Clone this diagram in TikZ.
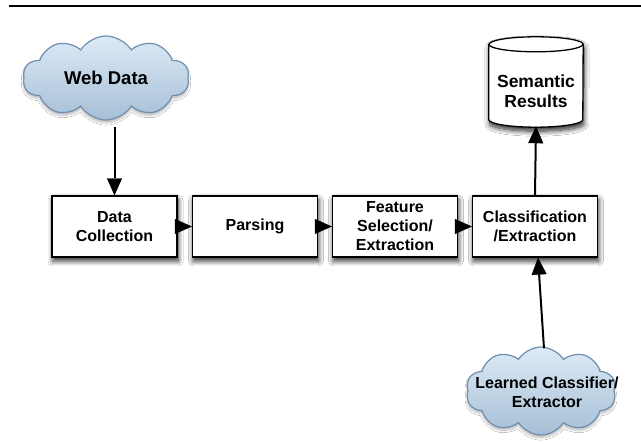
\documentclass[tikz,border=0pt]{standalone}
\usepackage{fontspec}
\setmainfont{Liberation Sans}
\usetikzlibrary{shapes.symbols,shapes.geometric,arrows.meta,shadows.blur,calc}

\definecolor{cloudtop}{HTML}{DDEAF6}
\definecolor{cloudbot}{HTML}{A6BFD6}
\definecolor{cloudedge}{HTML}{6F8FAE}

\tikzset{
  every node/.style={font=\fontsize{16}{19}\selectfont\bfseries, align=center},
  bigtext/.style={font=\fontsize{17.5}{20}\selectfont\bfseries},
  boxshadow/.style={blur shadow={shadow xshift=1pt, shadow yshift=-4pt,
    shadow blur radius=5pt, shadow blur steps=10, shadow opacity=85}},
  procbox/.style={rectangle, draw=black, line width=1.3pt, fill=white,
    minimum width=125pt, minimum height=61pt, inner sep=0pt, boxshadow},
  webcloud/.style={cloud, cloud puffs=10, cloud puff arc=115, cloud ignores aspect,
    draw=cloudedge, line width=1.2pt, top color=cloudtop, bottom color=cloudbot,
    inner sep=0pt,
    blur shadow={shadow xshift=0pt, shadow yshift=-3pt, shadow blur steps=6, shadow opacity=25}},
  flow/.style={draw=black, line width=2pt,
    -{Triangle[length=17pt,width=15pt,fill=black,line width=0.4pt]}},
}

\begin{document}
\begin{tikzpicture}[x=1pt,y=1pt]
  \useasboundingbox (0,0) rectangle (641,444);
  \fill[white] (0,0) rectangle (641,444);

  % rule across the top
  \draw[line width=1.2pt] (9,438) -- (641,438);

  % source cloud
  \node[webcloud, minimum width=166pt, minimum height=84pt] (wd) at (106,366) {};
  \node[font=\fontsize{18.5}{21}\selectfont\bfseries] (wdt) at (106,366) {Web Data};

  % processing chain
  \node[procbox] (dc)  at (114.5,217.5) {Data\\Collection};
  \node[procbox] (prs) at (255,217.5) {Parsing};
  \node[procbox] (fs)  at (395,217.5) {Feature\\Selection/\\Extraction};
  \node[procbox] (cls) at (535,217.5) {Classification\\/Extraction};

  % results store
  \node[minimum width=94pt, minimum height=90pt, inner sep=0pt] (res) at (536,362) {};
  \def\ry{7.5}
  \path[fill=white, draw=black, line width=1.3pt, boxshadow]
    ($(res.north west)+(0,-\ry)$) -- ($(res.south west)+(0,\ry)$)
    arc[start angle=180, end angle=360, x radius=47pt, y radius=\ry pt]
    -- ($(res.north east)+(0,-\ry)$)
    arc[start angle=0, end angle=180, x radius=47pt, y radius=\ry pt] -- cycle;
  \draw[line width=1.3pt] ($(res.north west)+(0,-\ry)$)
    arc[start angle=180, end angle=360, x radius=47pt, y radius=\ry pt];
  \node[bigtext, align=center] (rest) at (536,353) {Semantic\\Results};

  % model cloud
  \node[webcloud, minimum width=150pt, minimum height=88pt] (lc) at (541,53) {};
  \node (lct) at (547,52) {Learned Classifier/\\Extractor};

  % connectors
  \draw[flow] ([yshift=-6pt]wd.south -| dc.north) -- (dc.north);
  \draw[flow] ([xshift=-3pt]dc.east) -- (prs.west);
  \draw[flow] ([xshift=-3pt]prs.east) -- (fs.west);
  \draw[flow] ([xshift=-3pt]fs.east) -- (cls.west);
  \draw[flow] (cls.north) -- ([yshift=1pt]res.south);
  \draw[flow] ([xshift=3pt,yshift=-2pt]lc.north) -- ([xshift=3pt]cls.south);
\end{tikzpicture}
\end{document}
